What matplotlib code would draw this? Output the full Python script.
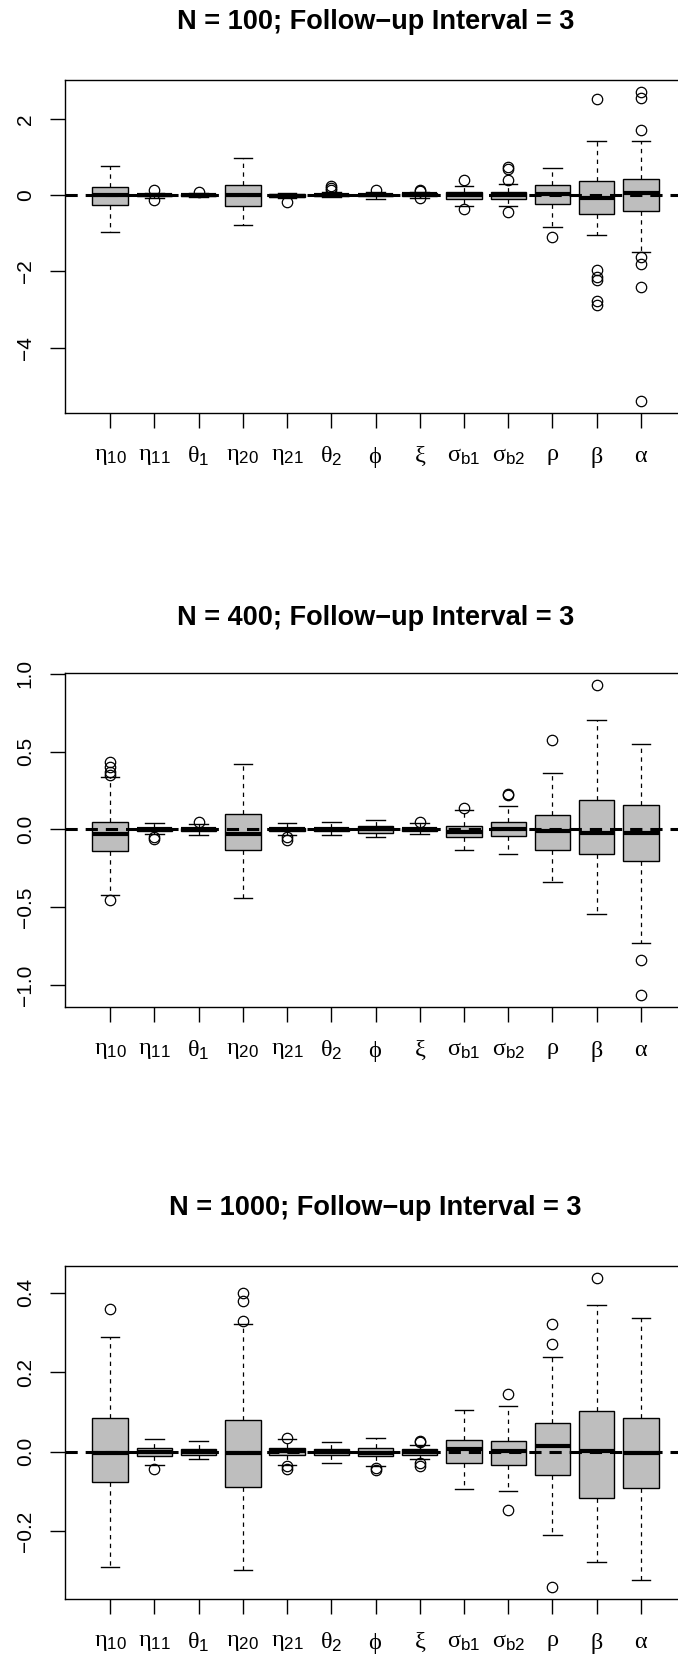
import matplotlib
matplotlib.use('Agg')
import matplotlib.pyplot as plt

plt.rcParams['font.family'] = ['Liberation Sans', 'DejaVu Sans']
plt.rcParams['mathtext.fontset'] = 'custom'
plt.rcParams['mathtext.rm'] = 'Liberation Serif'
plt.rcParams['mathtext.it'] = 'Liberation Serif'
plt.rcParams['mathtext.sf'] = 'Liberation Sans'
plt.rcParams['mathtext.fallback'] = 'stix'

# parameter labels
greek = ['η', 'η', 'θ', 'η', 'η', 'θ', 'ϕ', 'ξ', 'σ', 'σ', 'ρ', 'β', 'α']
subs = ['10', '11', '1', '20', '21', '2', '', '', 'b1', 'b2', '', '', '']

sample_sizes = [100, 400, 1000]

# N = 100
med1 = [0.01, 0.0, 0.01, 0.0, -0.01, 0.01, 0.0, 0.02, 0.0, 0.0, 0.02, -0.07, 0.07]
q1_1 = [-0.26, -0.03, -0.02, -0.28, -0.04, -0.02, -0.03, -0.02, -0.09, -0.09, -0.23, -0.48, -0.41]
q3_1 = [0.22, 0.03, 0.03, 0.28, 0.04, 0.04, 0.03, 0.05, 0.09, 0.09, 0.28, 0.37, 0.42]
lo_1 = [-0.96, -0.06, -0.04, -0.77, -0.07, -0.04, -0.09, -0.06, -0.29, -0.29, -0.84, -1.04, -1.50]
hi_1 = [0.76, 0.06, 0.05, 0.99, 0.05, 0.08, 0.08, 0.09, 0.25, 0.30, 0.71, 1.42, 1.42]
fl_1 = [[], [0.13, -0.13], [0.08], [], [-0.17], [0.24, 0.19, 0.15], [0.15],
        [0.15, 0.11, -0.06], [0.41, -0.37], [0.74, 0.70, 0.39, -0.43], [-1.09],
        [2.52, -1.97, -2.15, -2.22, -2.78, -2.88],
        [2.70, 2.56, 1.72, -1.61, -1.80, -2.42, -5.39]]

# N = 400
med2 = [-0.03, 0.0, 0.0, -0.03, 0.0, 0.0, 0.0, 0.0, -0.015, 0.0, -0.01, -0.025, -0.025]
q1_2 = [-0.14, -0.01, -0.01, -0.13, -0.01, -0.01, -0.02, -0.01, -0.05, -0.045, -0.13, -0.16, -0.205]
q3_2 = [0.05, 0.01, 0.01, 0.10, 0.01, 0.01, 0.02, 0.01, 0.025, 0.045, 0.095, 0.19, 0.155]
lo_2 = [-0.42, -0.03, -0.035, -0.44, -0.035, -0.035, -0.05, -0.03, -0.13, -0.155, -0.34, -0.545, -0.73]
hi_2 = [0.34, 0.04, 0.035, 0.42, 0.04, 0.045, 0.06, 0.04, 0.125, 0.15, 0.36, 0.70, 0.55]
fl_2 = [[0.43, 0.40, 0.37, 0.35, -0.45], [-0.05, -0.06], [0.05], [], [-0.05, -0.065],
        [], [], [0.05], [0.14], [0.23, 0.22], [0.575], [0.925], [-0.84, -1.06]]

# N = 1000
med3 = [-0.004, 0.0, 0.0, -0.004, 0.002, -0.001, -0.002, 0.0, 0.008, 0.003, 0.014, 0.003, -0.004]
q1_3 = [-0.076, -0.011, -0.008, -0.088, -0.008, -0.009, -0.011, -0.007, -0.027, -0.033, -0.059, -0.117, -0.09]
q3_3 = [0.084, 0.01, 0.008, 0.079, 0.01, 0.008, 0.009, 0.006, 0.03, 0.028, 0.072, 0.102, 0.085]
lo_3 = [-0.29, -0.033, -0.019, -0.297, -0.032, -0.028, -0.036, -0.018, -0.093, -0.098, -0.208, -0.277, -0.323]
hi_3 = [0.288, 0.031, 0.028, 0.32, 0.033, 0.025, 0.035, 0.018, 0.104, 0.114, 0.238, 0.368, 0.336]
fl_3 = [[0.36], [-0.043], [], [0.40, 0.38, 0.328], [0.035, -0.036, -0.044], [],
        [-0.04, -0.046], [0.028, 0.024, -0.028, -0.036], [], [0.146, -0.146],
        [0.321, 0.271, -0.339], [0.436], []]

yticks = [[-4, -2, 0, 2], [-1.0, -0.5, 0.0, 0.5, 1.0], [-0.2, 0.0, 0.2, 0.4]]
ytick_fmt = ['{:.0f}', '{:.1f}', '{:.1f}']

panels = [(med1, q1_1, q3_1, lo_1, hi_1, fl_1),
          (med2, q1_2, q3_2, lo_2, hi_2, fl_2),
          (med3, q1_3, q3_3, lo_3, hi_3, fl_3)]

W, H = 678, 1655
fig = plt.figure(figsize=(W / 100, H / 100), dpi=100)

# axes boxes in pixels (top, bottom) and title centre
ax_px = [(80, 413, 22), (673, 1007, 618), (1266, 1599, 1208)]
left_px, right_px = 65, 686

labels = []
for g, s in zip(greek, subs):
    if s:
        labels.append(r'$\mathrm{%s}_{\mathsf{%s}}$' % (g, s))
    else:
        labels.append(r'$\mathrm{%s}$' % g)

for k, (med, q1, q3, lo, hi, fl) in enumerate(panels):
    top, bot, ttl = ax_px[k]
    ax = fig.add_axes([left_px / W, 1 - bot / H, (right_px - left_px) / W, (bot - top) / H])
    stats = []
    for i in range(len(med)):
        stats.append(dict(med=med[i], q1=q1[i], q3=q3[i], whislo=lo[i],
                          whishi=hi[i], fliers=fl[i]))
    pos = list(range(1, len(med) + 1))
    ax.bxp(stats, positions=pos, widths=0.8, patch_artist=True, capwidths=0.42,
           boxprops=dict(facecolor='#bebebe', edgecolor='black', linewidth=1.0),
           medianprops=dict(color='black', linewidth=3.0, solid_capstyle='butt'),
           whiskerprops=dict(color='black', linewidth=0.9, linestyle=(0, (3.5, 3.5))),
           capprops=dict(color='black', linewidth=1.0),
           flierprops=dict(marker='o', markerfacecolor='none', markeredgecolor='black',
                           markersize=7.5, markeredgewidth=0.9))
    ax.axhline(0, color='black', linewidth=2.2, linestyle=(0, (4, 2.6)), zorder=5)

    allv = lo + hi + [v for f in fl for v in f]
    ymin, ymax = min(allv), max(allv)
    padv = 0.04 * (ymax - ymin)
    ax.set_ylim(ymin - padv, ymax + padv)
    ax.set_xlim(0.5 - 0.52, len(med) + 0.5 + 0.52)

    ax.set_yticks(yticks[k])
    ax.set_yticklabels([ytick_fmt[k].format(v).replace('-', '\u2212') for v in yticks[k]],
                       rotation=90, va='center', fontsize=15)
    ax.set_xticks(pos)
    ax.set_xticklabels(labels, fontsize=17.5)
    ax.tick_params(axis='both', direction='out', length=10.8, width=1.0, color='black')
    ax.tick_params(axis='x', pad=12)
    ax.tick_params(axis='y', pad=11)
    for sp in ax.spines.values():
        sp.set_linewidth(1.0)

    ax.text(0.5, 1 + (top - ttl) / (bot - top), 'N = %d; Follow\u2212up Interval = 3' % sample_sizes[k],
            transform=ax.transAxes, ha='center', va='center', fontsize=19.5, fontweight='bold')

fig.savefig('out.png', dpi=100)
